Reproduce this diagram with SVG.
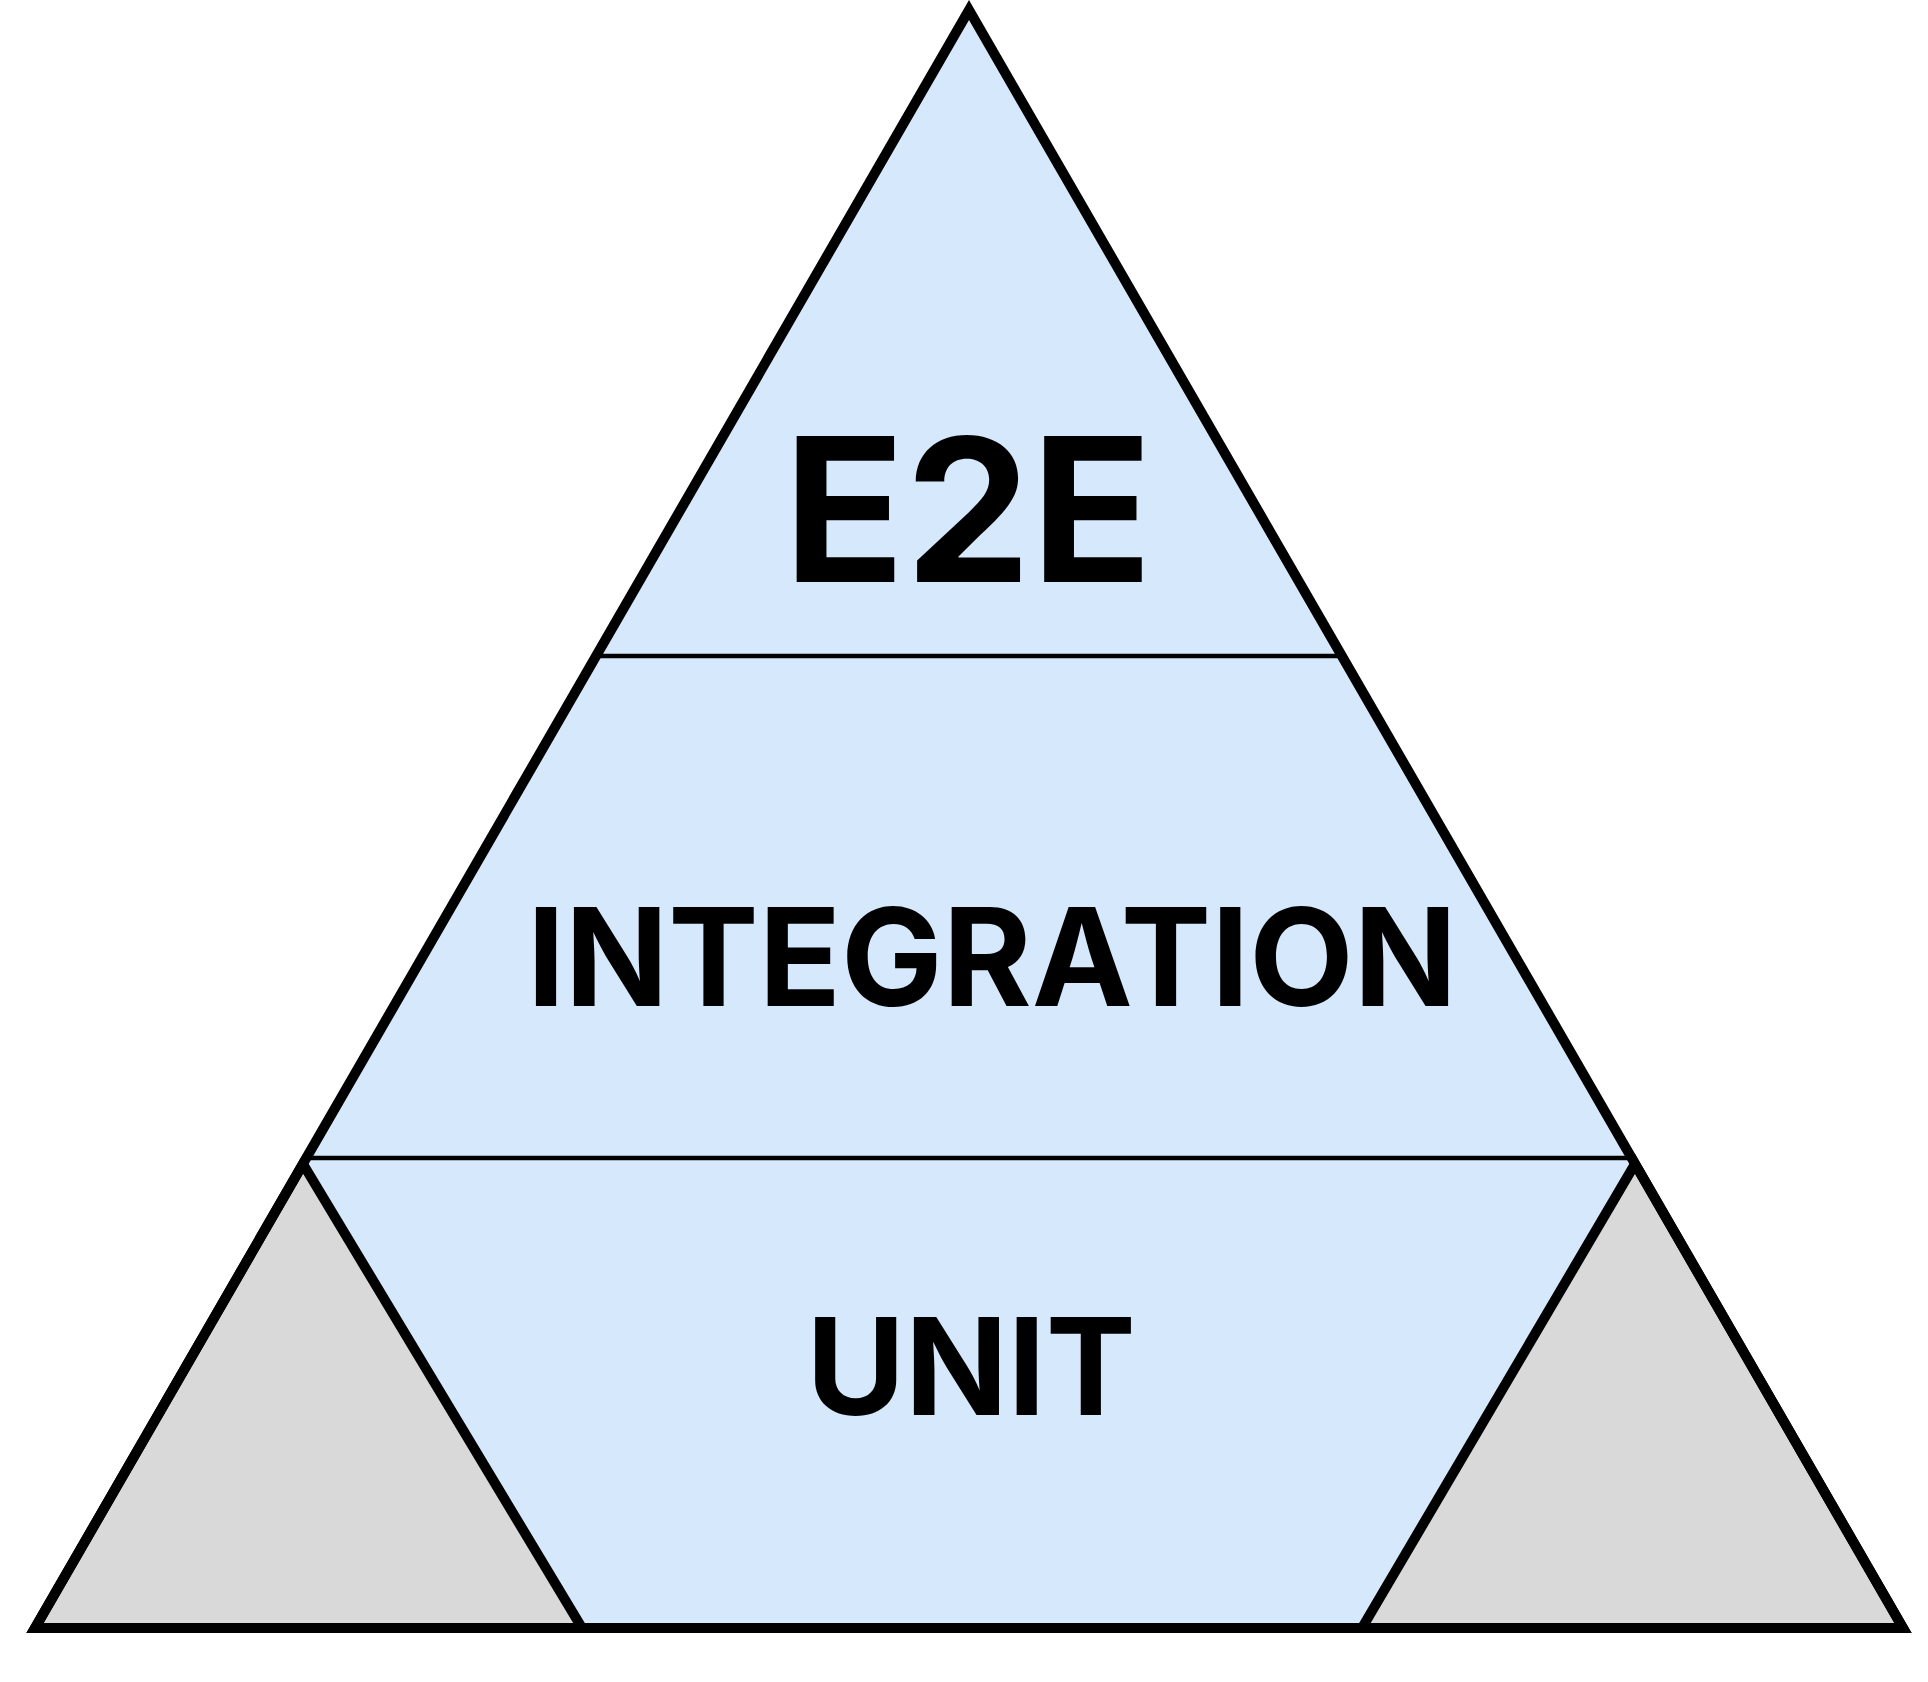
<svg xmlns="http://www.w3.org/2000/svg" width="1928" height="1682" viewBox="0 0 1928 1682">
  <style>
    .band { fill: #d5e8fc; }
    .side { fill: #d9d9d9; stroke: #000000; stroke-width: 10; stroke-linejoin: miter; }
    .edge { fill: none; stroke: #000000; stroke-width: 10; stroke-linejoin: miter; }
    .sep { stroke: #000000; stroke-width: 4.5; }
    .lbl { font-family: Inter, "Liberation Sans", sans-serif; font-weight: 700; fill: #000000; text-anchor: middle; }
  </style>
  <rect width="1928" height="1682" fill="#ffffff"/>
  <g id="pyramid-fill">
    <path class="band" d="M969,10 L35,1628 L1903,1628 Z"/>
  </g>
  <g id="side-left">
    <path class="side" d="M303,1164 L35,1628 L582,1628 Z"/>
  </g>
  <g id="side-right">
    <path class="side" d="M1635,1164 L1903,1628 L1362,1628 Z"/>
  </g>
  <g id="connectors">
    <line class="sep" x1="596" y1="656" x2="1342" y2="656"/>
    <line class="sep" x1="306" y1="1158" x2="1632" y2="1158"/>
  </g>
  <g id="pyramid-outline">
    <path class="edge" d="M969,10 L35,1628 L1903,1628 Z"/>
  </g>
  <g id="e2e">
    <text class="lbl" x="968" y="582" font-size="200">E2E</text>
  </g>
  <g id="integration">
    <text class="lbl" x="992" y="1006" font-size="135.5">INTEGRATION</text>
  </g>
  <g id="unit">
    <text class="lbl" x="971" y="1415" font-size="135">UNIT</text>
  </g>
</svg>
